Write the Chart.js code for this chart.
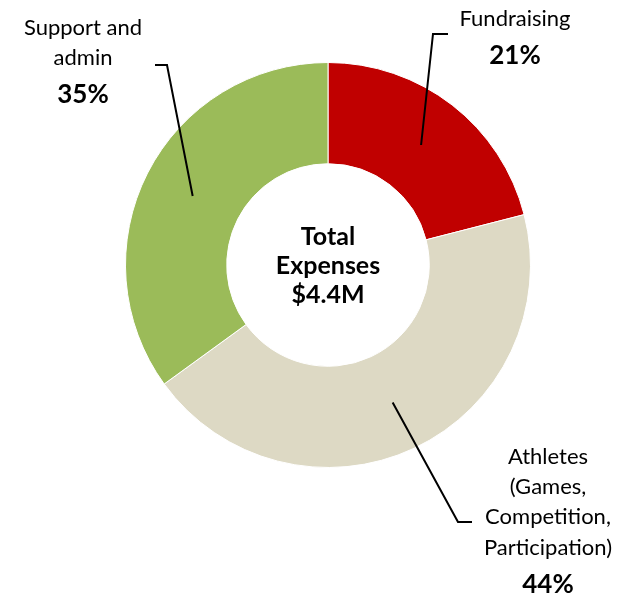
<!DOCTYPE html>
<html>
<head>
<meta charset="utf-8">
<script src="https://cdn.jsdelivr.net/npm/chart.js@4"></script>
<style>
  html, body { margin: 0; padding: 0; background: #fff; }
  #wrap { width: 622px; height: 599px; }
</style>
</head>
<body>
<div id="wrap"><canvas id="gastos"></canvas></div>
<script>
// Datos del gráfico
const categorias = ['Fundraising', 'Athletes (Games, Competition, Participation)', 'Support and admin'];
const porcentajes = [21, 44, 35];
const colores = ['#C00000', '#DDD9C4', '#9BBB59'];
const textoCentro = ['Total', 'Expenses', '$4.4M'];

// Etiquetas de cada porción: líneas de texto, posición del bloque y codo de la línea guía
const etiquetas = [
    { lineas: ['Fundraising'], x: 515, y: 19, codo: [433, 34], fin: [448, 34] },
    { lineas: ['Athletes', '(Games,', 'Competition,', 'Participation)'], x: 548, y: 457, codo: [458, 522], fin: [472, 522] },
    { lineas: ['Support and', 'admin'], x: 83, y: 28, codo: [167, 65], fin: [155, 65] }
];

const fuente = 'Lato, "Open Sans", sans-serif';

// Plugin para dibujar el texto del centro, las etiquetas y las líneas guía
const etiquetasPlugin = {
    id: 'etiquetas',
    afterDraw(chart) {
        const ctx = chart.ctx;
        const meta = chart.getDatasetMeta(0);
        ctx.save();
        ctx.textAlign = 'center';
        ctx.textBaseline = 'middle';
        ctx.fillStyle = '#000';

        // Texto del centro
        const arco0 = meta.data[0];
        ctx.font = 'bold 25px ' + fuente;
        textoCentro.forEach((t, i) => {
            ctx.fillText(t, arco0.x, arco0.y - 28 + i * 29);
        });

        meta.data.forEach((arco, i) => {
            const et = etiquetas[i];
            const p = arco.getProps(['x', 'y', 'startAngle', 'endAngle', 'innerRadius', 'outerRadius'], true);
            const ang = (p.startAngle + p.endAngle) / 2;
            const r = (p.innerRadius + p.outerRadius) / 2;
            const x0 = p.x + Math.cos(ang) * r;
            const y0 = p.y + Math.sin(ang) * r;

            // Línea guía
            ctx.strokeStyle = '#000';
            ctx.lineWidth = 2;
            ctx.beginPath();
            ctx.moveTo(x0, y0);
            ctx.lineTo(et.codo[0], et.codo[1]);
            ctx.lineTo(et.fin[0], et.fin[1]);
            ctx.stroke();

            // Texto de la etiqueta
            ctx.font = '22px ' + fuente;
            let y = et.y;
            et.lineas.forEach((l, j) => {
                ctx.fillText(l, et.x, y);
                y += (j === 2 ? 31 : 30);
            });
            ctx.font = 'bold 26px ' + fuente;
            ctx.fillText(porcentajes[i] + '%', et.x, y + 7);
        });
        ctx.restore();
    }
};

new Chart(document.getElementById('gastos'), {
    type: 'doughnut',
    data: {
        labels: categorias,
        datasets: [{
            data: porcentajes,
            backgroundColor: colores,
            borderColor: '#fff',
            borderWidth: 1
        }]
    },
    options: {
        responsive: true,
        maintainAspectRatio: false,
        animation: false,
        cutout: '50%',
        layout: { padding: { left: 125, right: 91, top: 62, bottom: 131 } },
        plugins: {
            legend: { display: false },
            tooltip: { enabled: false }
        }
    },
    plugins: [etiquetasPlugin]
});
</script>
</body>
</html>
